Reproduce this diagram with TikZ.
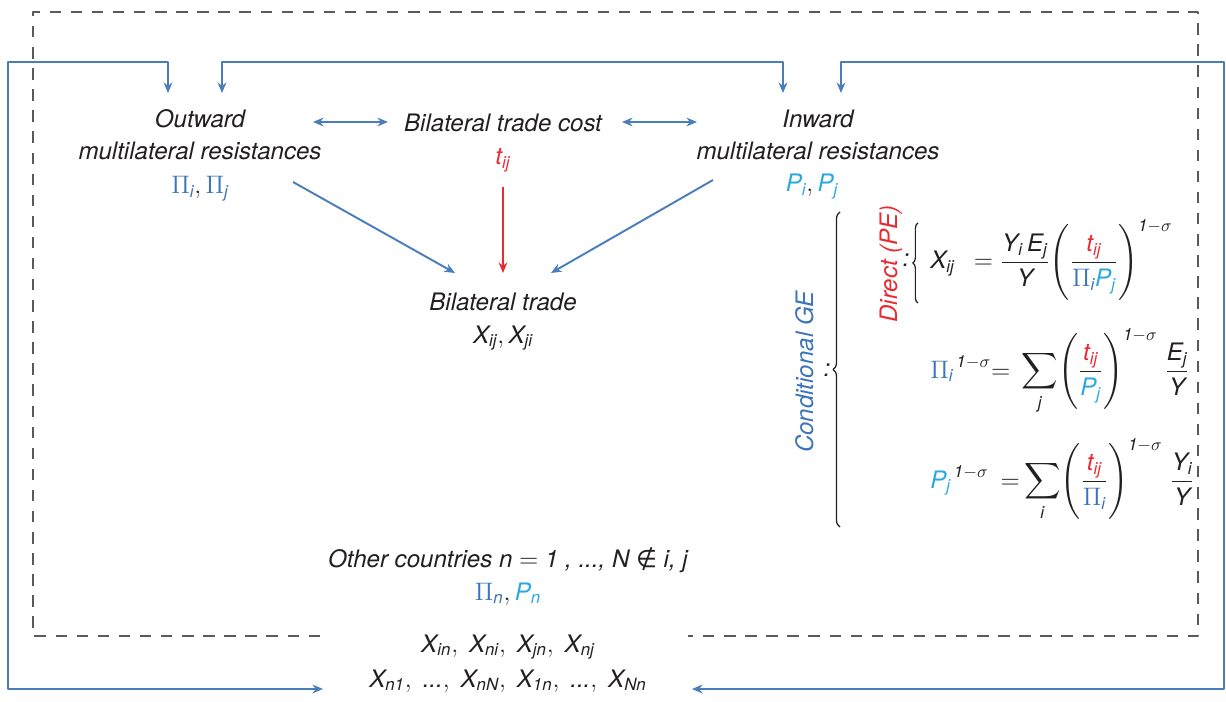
\documentclass[tikz,border=0pt]{standalone}
\usepackage{amsmath}
\usepackage{fontspec}
\setmainfont{TeX Gyre Heros}
\newfontfamily\symbolfont{DejaVu Sans}
\usetikzlibrary{arrows.meta,decorations.pathreplacing}

\definecolor{linkblue}{HTML}{4A7EBB}
\definecolor{piblue}{HTML}{3B74BA}
\definecolor{pcyan}{HTML}{2AA9E0}
\definecolor{costred}{HTML}{EA2A33}
\definecolor{dashgray}{HTML}{5A5A5A}
\definecolor{ink}{HTML}{231F20}

\newcommand{\hv}[1]{\text{\itshape #1}}
\newcommand{\Pires}[1]{\textcolor{piblue}{\Pi_{\hv{#1}}}}
\newcommand{\Pres}[1]{\textcolor{pcyan}{\hv{P}_{\hv{#1}}}}
\newcommand{\tcost}{\textcolor{costred}{\hv{t}_{\hv{ij}}}}
\newcommand{\oms}{\hv{1}{-}\sigma}

\begin{document}
\begin{tikzpicture}[x=0.02cm, y=-0.02cm, line join=round,
    font=\fontsize{13.7}{18.3}\selectfont\itshape, text=ink,
    >={Stealth[length=6pt,width=5pt]},
    lbl/.style={anchor=base, align=center, inner sep=0pt},
    link/.style={draw=linkblue, line width=1.1pt},
    frame/.style={draw=dashgray, line width=0.9pt, dash pattern=on 6.5pt off 5.5pt},
    curly/.style={draw=ink, line width=0.7pt, decorate, decoration={brace, amplitude=#1}}]
  \useasboundingbox (0,0) rectangle (1226,702);
  % dashed frame, open at the bottom
  \draw[frame] (320,636) -- (33,636) -- (33,12) -- (1198,12) -- (1198,636) -- (688,636);

  % base of a two-line node = last line
  \node[lbl] (outw) at (200,160) {Outward\\multilateral resistances};
  \node[lbl] (outwv) at (200,194) {$\Pires{i}, \Pires{j}$};
  \node[lbl] (cost) at (503,132) {Bilateral trade cost};
  \node[lbl] (tij) at (503,165) {$\tcost$};
  \node[lbl] (inw) at (818,160) {Inward\\multilateral resistances};
  \node[lbl] (inwv) at (812,192) {$\Pres{i}, \Pres{j}$};
  \node[lbl] (trade) at (503,343) {Bilateral trade\\$\hv{X}_{\hv{ij}}, \hv{X}_{\hv{ji}}$};

  \node[lbl] (other) at (508,567) {Other countries n $=$ 1 , ..., N {\symbolfont\upshape ∉} i, j};
  \node[lbl] (otherv) at (508,600) {$\Pires{n}, \Pres{n}$};
  \node[lbl] (otherx) at (508,652) {$\hv{X}_{\hv{in}},\ \hv{X}_{\hv{ni}},\ \hv{X}_{\hv{jn}},\ \hv{X}_{\hv{nj}}$};
  \node[lbl] (otherxx) at (508,687) {$\hv{X}_{\hv{n1}},\ \hv{...},\ \hv{X}_{\hv{nN}},\ \hv{X}_{\hv{1n}},\ \hv{...},\ \hv{X}_{\hv{Nn}}$};

  % equations on the right
  \node[lbl, rotate=90, text=piblue] (cge) at (813,372) {Conditional GE};
  \node[lbl] (colA) at (827,376) {:};
  \draw[curly=4pt] (840,527) -- (840,212);
  \node[lbl, rotate=90, text=costred] (direct) at (897,264) {Direct (PE)};
  \node[lbl] (colB) at (906,267) {:};
  \draw[curly=3pt] (918,303) -- (918,223);
  \node[lbl, anchor=base west] (eqx) at (930,269)
    {$\displaystyle \hv{X}_{\hv{ij}}\enspace= \frac{\hv{Y}_{\hv{i}}\,\hv{E}_{\hv{j}}}{\hv{Y}}\Biggl(\frac{\tcost}{\Pires{i}\Pres{j}}\Biggr)^{\oms}$};
  \node[lbl, anchor=base west] (eqpi) at (930,378)
    {$\displaystyle \Pires{i}^{\,\oms}{=}\;\sum_{\hv{j}}\Biggl(\frac{\tcost}{\Pres{j}}\Biggr)^{\oms}\;\frac{\hv{E}_{\hv{j}}}{\hv{Y}}$};
  \node[lbl, anchor=base west] (eqp) at (930,488)
    {$\displaystyle \Pres{j}^{\,\oms}\enspace{=}\sum_{\hv{i}}\Biggl(\frac{\tcost}{\Pires{i}}\Biggr)^{\oms}\;\frac{\hv{Y}_{\hv{i}}}{\hv{Y}}$};

  \draw[link,<->] ([shift={(113,-38)}]outw.base) -- ([shift={(-115,-10)}]cost.base);
  \draw[link,<->] ([shift={(119,-10)}]cost.base) -- ([shift={(-121,-38)}]inw.base);
  \draw[link,->] ([shift={(93,22)}]outw.base) -- ([shift={(-48,-70)}]trade.base);
  \draw[link,->] ([shift={(-105,20)}]inw.base) -- ([shift={(48,-70)}]trade.base);
  \draw[draw=costred, line width=1.1pt, ->] ([shift={(0,22)}]tij.base) -- ([shift={(0,-70)}]trade.base);
  % feedback loops
  \draw[link,<->] ([shift={(-32,-67)}]outw.base) |- (8,62) |- ([shift={(-185,2)}]otherxx.base);
  \draw[link,<->] ([shift={(22,-67)}]outw.base) |- (500,62) -| ([shift={(-35,-67)}]inw.base);
  \draw[link,<->] ([shift={(23,-67)}]inw.base) |- (1224,62) |- ([shift={(184,2)}]otherxx.base);
\end{tikzpicture}
\end{document}
